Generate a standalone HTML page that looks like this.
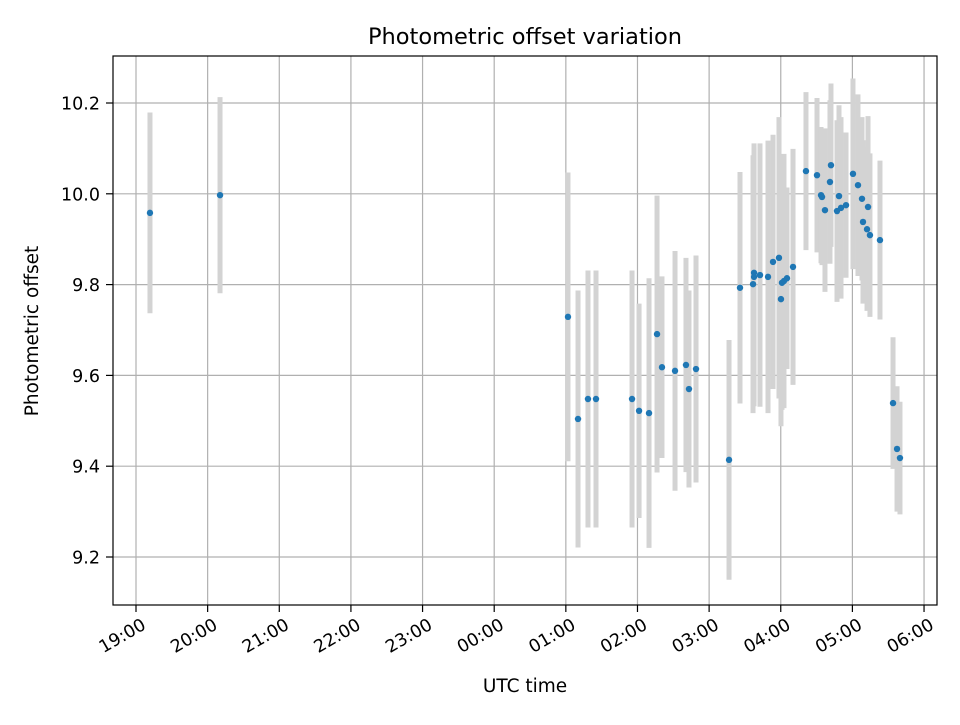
<!DOCTYPE html>
<html><head><meta charset="utf-8"><style>
body{margin:0;background:#fff}
text{font-family:"DejaVu Sans","Liberation Sans",sans-serif;fill:#000}
</style></head><body>
<svg id="chart" width="960" height="720" xmlns="http://www.w3.org/2000/svg">
<rect x="0" y="0" width="960" height="720" fill="#fff"/>
<g id="grid"></g>
<g id="errs"></g>
<g id="pts"></g>
<rect x="113" y="56" width="824" height="549" fill="none" stroke="#000" stroke-width="1.2"/>
<g id="axes"></g>
<text x="525" y="44" font-size="22.5" text-anchor="middle">Photometric offset variation</text>
<text x="525" y="692" font-size="18.5" text-anchor="middle">UTC time</text>
<text x="38" y="331" font-size="18.5" text-anchor="middle" transform="rotate(-90 38 331)">Photometric offset</text>
</svg>
<script>
// hours after 19:00 UTC
const times=[0.195,1.173,6.030,6.170,6.309,6.421,6.924,7.022,7.161,7.273,7.342,7.524,7.677,7.719,7.817,8.278,8.431,8.613,8.627,8.627,8.710,8.822,8.892,8.975,9.003,9.017,9.045,9.087,9.171,9.352,9.506,9.562,9.576,9.617,9.701,9.687,9.785,9.813,9.841,9.911,10.008,10.078,10.134,10.218,10.148,10.204,10.245,10.385,10.567,10.623,10.664];
const values=[9.958,9.997,9.729,9.504,9.548,9.548,9.548,9.522,9.517,9.691,9.618,9.610,9.623,9.570,9.614,9.414,9.793,9.801,9.826,9.817,9.821,9.817,9.850,9.859,9.768,9.804,9.808,9.814,9.839,10.050,10.041,9.997,9.993,9.964,10.063,10.026,9.962,9.995,9.969,9.975,10.044,10.019,9.989,9.971,9.938,9.922,9.909,9.898,9.539,9.438,9.418];
const errors=[0.221,0.216,0.318,0.283,0.283,0.283,0.283,0.236,0.297,0.305,0.2,0.264,0.236,0.217,0.25,0.264,0.255,0.284,0.285,0.285,0.29,0.3,0.28,0.31,0.28,0.28,0.28,0.2,0.26,0.174,0.17,0.15,0.15,0.18,0.18,0.18,0.2,0.2,0.2,0.16,0.21,0.2,0.18,0.2,0.18,0.18,0.18,0.175,0.145,0.138,0.124];
const xTickLabels=["19:00","20:00","21:00","22:00","23:00","00:00","01:00","02:00","03:00","04:00","05:00","06:00"];
const yTicks=[9.2,9.4,9.6,9.8,10.0,10.2];
const NS="http://www.w3.org/2000/svg";
const X=h=>136+h*71.64;
const Y=v=>557-(v-9.2)*454;
function mk(tag,attrs,parent){const e=document.createElementNS(NS,tag);for(const k in attrs)e.setAttribute(k,attrs[k]);parent.appendChild(e);return e;}
const grid=document.getElementById('grid'),axes=document.getElementById('axes'),errs=document.getElementById('errs'),pts=document.getElementById('pts');
xTickLabels.forEach((lab,i)=>{const x=X(i);
 const g=mk('line',{x1:x,x2:x,y1:56,y2:605,stroke:'#b0b0b0','stroke-width':1.2},grid);
 
 const t=mk('line',{x1:x,x2:x,y1:605,y2:612,stroke:'#000','stroke-width':1.2},axes);
 
 const ax=x+4, ay=616;
 const tx=mk('text',{x:ax,y:ay,dy:'0.8em','font-size':17.5,'text-anchor':'end',transform:`rotate(-30 ${ax} ${ay})`},axes);
 tx.textContent=lab;
 
});
yTicks.forEach(v=>{const y=Y(v);
 const g=mk('line',{x1:113,x2:937,y1:y,y2:y,stroke:'#b0b0b0','stroke-width':1.2},grid);
 
 const t=mk('line',{x1:106,x2:113,y1:y,y2:y,stroke:'#000','stroke-width':1.2},axes);
 
 const tx=mk('text',{x:100,y:y+6.5,'font-size':17.5,'text-anchor':'end'},axes);
 tx.textContent=v.toFixed(1);
 
});
times.forEach((h,i)=>{const x=X(h);
 const e=mk('line',{x1:x,x2:x,y1:Y(values[i]+errors[i]),y2:Y(values[i]-errors[i]),stroke:'#d3d3d3','stroke-width':5},errs);
 
});
times.forEach((h,i)=>{
 const c=mk('circle',{cx:X(h),cy:Y(values[i]),r:3.2,fill:'#1f77b4'},pts);
 
});
</script>
</body></html>
